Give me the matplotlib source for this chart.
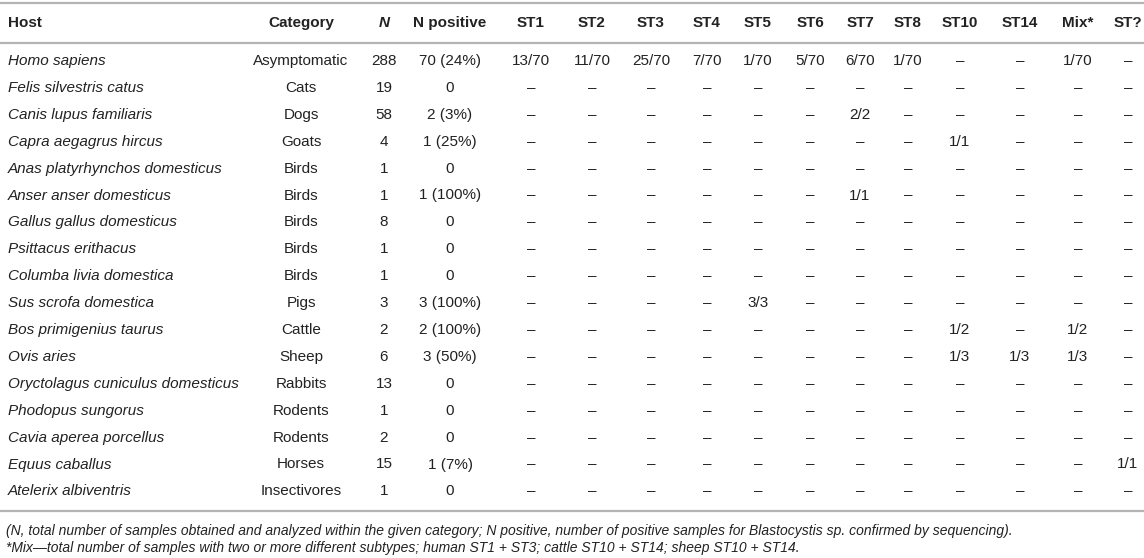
import matplotlib
matplotlib.use("Agg")
import matplotlib.pyplot as plt

plt.rcParams['font.family'] = ['Liberation Sans', 'DejaVu Sans']

columns = ["Host", "Category", "N", "N positive", "ST1", "ST2", "ST3", "ST4", "ST5",
           "ST6", "ST7", "ST8", "ST10", "ST14", "Mix*", "ST?"]

hosts = ["Homo sapiens", "Felis silvestris catus", "Canis lupus familiaris",
         "Capra aegagrus hircus", "Anas platyrhynchos domesticus", "Anser anser domesticus",
         "Gallus gallus domesticus", "Psittacus erithacus", "Columba livia domestica",
         "Sus scrofa domestica", "Bos primigenius taurus", "Ovis aries",
         "Oryctolagus cuniculus domesticus", "Phodopus sungorus", "Cavia aperea porcellus",
         "Equus caballus", "Atelerix albiventris"]

categories = ["Asymptomatic", "Cats", "Dogs", "Goats", "Birds", "Birds", "Birds", "Birds",
              "Birds", "Pigs", "Cattle", "Sheep", "Rabbits", "Rodents", "Rodents",
              "Horses", "Insectivores"]

n_total = [288, 19, 58, 4, 1, 1, 8, 1, 1, 3, 2, 6, 13, 1, 2, 15, 1]

n_positive = ["70 (24%)", "0", "2 (3%)", "1 (25%)", "0", "1 (100%)", "0", "0", "0",
              "3 (100%)", "2 (100%)", "3 (50%)", "0", "0", "0", "1 (7%)", "0"]

# subtype results per host (ST1 ... ST8, ST10, ST14, Mix*, ST?)
D = "\u2013"
subtypes = [
    ["13/70", "11/70", "25/70", "7/70", "1/70", "5/70", "6/70", "1/70", D, D, "1/70", D],
    [D] * 12,
    [D, D, D, D, D, D, "2/2", D, D, D, D, D],
    [D, D, D, D, D, D, D, D, "1/1", D, D, D],
    [D] * 12,
    [D, D, D, D, D, D, "1/1", D, D, D, D, D],
    [D] * 12,
    [D] * 12,
    [D] * 12,
    [D, D, D, D, "3/3", D, D, D, D, D, D, D],
    [D, D, D, D, D, D, D, D, "1/2", D, "1/2", D],
    [D, D, D, D, D, D, D, D, "1/3", "1/3", "1/3", D],
    [D] * 12,
    [D] * 12,
    [D] * 12,
    [D, D, D, D, D, D, D, D, D, D, D, "1/1"],
    [D] * 12,
]

footnotes = [
    "(N, total number of samples obtained and analyzed within the given category; "
    "N positive, number of positive samples for Blastocystis sp. confirmed by sequencing).",
    "*Mix\u2014total number of samples with two or more different subtypes; "
    "human ST1 + ST3; cattle ST10 + ST14; sheep ST10 + ST14.",
]

# layout (pixels)
W, H = 1144, 558
col_x = [8, 301, 384, 450, 531, 592, 651, 707, 758, 810, 860, 908, 960, 1020, 1078, 1128]
header_y = 23
row_y0, row_step = 61, 26.9
text_color = "#222222"
line_color = "#b4b4b4"
fs = 11

fig = plt.figure(figsize=(W / 100, H / 100), dpi=100)
ax = fig.add_axes([0, 0, 1, 1])
ax.set_xlim(0, W)
ax.set_ylim(H, 0)
ax.axis("off")

for x, name in zip(col_x, columns):
    ha = "left" if name == "Host" else "center"
    style = "italic" if name == "N" else "normal"
    ax.text(x, header_y, name, ha=ha, va="center", fontsize=fs, fontweight="bold",
            fontstyle=style, color=text_color)

for i in range(len(hosts)):
    y = row_y0 + i * row_step
    cells = [categories[i], str(n_total[i]), n_positive[i]] + subtypes[i]
    ax.text(col_x[0], y, hosts[i], ha="left", va="center", fontsize=fs,
            fontstyle="italic", color=text_color)
    for x, val in zip(col_x[1:], cells):
        ax.text(x, y, val, ha="center", va="center", fontsize=fs, color=text_color)

for y in [3, 43, 511]:
    ax.plot([0, W], [y, y], color=line_color, lw=1.6, solid_capstyle="butt")

for y, note in zip([531, 548], footnotes):
    ax.text(col_x[0] - 2, y, note, ha="left", va="center", fontsize=10,
            fontstyle="italic", color=text_color)

fig.savefig("out.png", dpi=100)
